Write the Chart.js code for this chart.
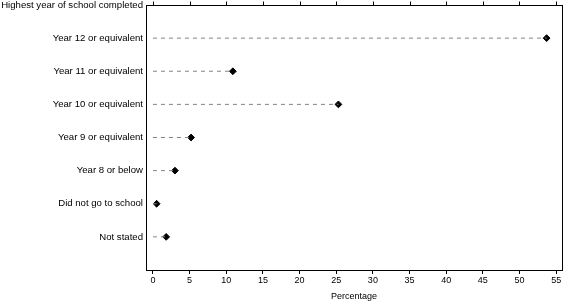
<!DOCTYPE html>
<html>
<head>
<meta charset="utf-8">
<script src="https://cdn.jsdelivr.net/npm/chart.js@4"></script>
<style>
  body { margin: 0; background: #fff; }
</style>
</head>
<body>
<canvas id="schoolChart" width="567" height="302"></canvas>
<script>
const axisHeading = 'Highest year of school completed'
const categories = [
    'Year 12 or equivalent',
    'Year 11 or equivalent',
    'Year 10 or equivalent',
    'Year 9 or equivalent',
    'Year 8 or below',
    'Did not go to school',
    'Not stated'
]
const percentages = [53.7, 10.9, 25.3, 5.2, 3.0, 0.5, 1.8]
const xTicks = [0, 5, 10, 15, 20, 25, 30, 35, 40, 45, 50, 55]

Chart.defaults.font.family = "'Liberation Sans', Arial, sans-serif"
Chart.defaults.font.size = 9
Chart.defaults.color = '#000'

// y positions: row 0 holds the heading, rows 1..7 the categories
const yLabels = [axisHeading, ...categories, '']

const dashedLines = categories.map((c, i) => ({
    type: 'line',
    label: c,
    data: [{ x: 0, y: i + 1 }, { x: percentages[i], y: i + 1 }],
    borderColor: '#858585',
    borderWidth: 1,
    borderDash: [4, 4],
    pointRadius: 0,
    fill: false
}))

const markers = {
    type: 'scatter',
    label: 'Percentage',
    data: percentages.map((v, i) => ({ x: v, y: i + 1 })),
    pointStyle: 'rectRot',
    pointRadius: 3.4,
    backgroundColor: '#000',
    borderColor: '#000',
    borderWidth: 1
}

// top frame line with small tick marks pointing up, taken from the x scale ticks
const topFrameTicks = {
    id: 'topFrameTicks',
    afterDraw: (chart) => {
        const {ctx, chartArea, scales} = chart
        const top = Math.round(chartArea.top) + 0.5
        ctx.save()
        ctx.strokeStyle = '#000'
        ctx.lineWidth = 1
        ctx.beginPath()
        ctx.moveTo(chartArea.left, top)
        ctx.lineTo(chartArea.right, top)
        scales.x.ticks.forEach(t => {
            const px = Math.round(scales.x.getPixelForValue(t.value)) + 0.5
            ctx.moveTo(px, top)
            ctx.lineTo(px, top - 4)
        })
        ctx.stroke()
        ctx.restore()
    }
}

new Chart(document.getElementById('schoolChart'), {
    type: 'scatter',
    data: { datasets: [...dashedLines, markers] },
    options: {
        responsive: false,
        animation: false,
        layout: { padding: { top: 4, right: 0, left: 0, bottom: 0 } },
        plugins: {
            legend: { display: false },
            tooltip: { enabled: false }
        },
        scales: {
            x: {
                type: 'linear',
                position: 'bottom',
                min: -0.95,
                max: 55.8,
                afterBuildTicks: (scale) => { scale.ticks = xTicks.map(v => ({ value: v })) },
                afterFit: (scale) => { scale.height = 32 },
                grid: { drawOnChartArea: false, drawTicks: true, tickLength: 4, color: '#000' },
                border: { display: true, color: '#000', width: 1 },
                ticks: { padding: 1, maxRotation: 0 },
                title: { display: true, text: 'Percentage', padding: { top: 1, bottom: 0 } }
            },
            y: {
                type: 'linear',
                position: 'left',
                reverse: true,
                min: 0,
                max: 8,
                afterBuildTicks: (scale) => { scale.ticks = yLabels.map((l, i) => ({ value: i })) },
                afterFit: (scale) => {
                    scale.width = 146
                    scale.paddingTop = 0
                    scale.paddingBottom = 0
                },
                grid: { display: false, drawTicks: false, tickLength: 0 },
                border: { display: true, color: '#000', width: 1 },
                ticks: {
                    padding: 3,
                    font: { size: 9.6 },
                    callback: (value) => yLabels[value]
                }
            },
            yRight: {
                type: 'linear',
                position: 'right',
                min: 0,
                max: 8,
                afterFit: (scale) => { scale.width = 4; scale.paddingTop = 0; scale.paddingBottom = 0 },
                grid: { display: false },
                border: { display: true, color: '#000', width: 1 },
                ticks: { display: false }
            }
        }
    },
    plugins: [topFrameTicks]
})
</script>
</body>
</html>
